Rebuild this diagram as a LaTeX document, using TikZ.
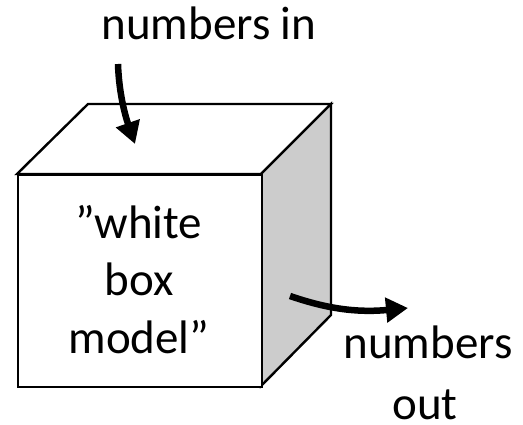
\documentclass[tikz,border=0pt]{standalone}
\usepackage{fontspec}
\setmainfont{Carlito}
\usetikzlibrary{arrows.meta}
\begin{document}
\begin{tikzpicture}[x=1pt,y=-1pt,
  edge/.style={draw=black,line width=2.4pt,line join=miter},
  flow/.style={line width=6.5pt,-{Triangle[length=22pt,width=24pt]}},
  lbl/.style={font=\fontsize{47}{57.5}\selectfont,inner sep=0pt}]
\useasboundingbox (0,0) rectangle (523,425);
% cube
\filldraw[edge,fill=white] (17,174) -- (88,104) -- (331,104) -- (261,174) -- cycle;
\filldraw[edge,fill=black!20] (261,174) -- (331,104) -- (331,315) -- (261,386) -- cycle;
\node[edge,fill=white,minimum width=244pt,minimum height=212pt,inner sep=0pt,anchor=north west] (box) at (17,174) {};
% texts
\node[lbl,anchor=base] (in) at (209,40) {numbers in};
\node[lbl,align=center,anchor=base] (model) at (139,353) {”white\\box\\model”};
\node[lbl,anchor=base] (out1) at (428,359) {numbers};
\node[lbl,anchor=base] (out2) at (425,420) {out};
% arrows
\coordinate (inS) at (118,64);
\coordinate (inT) at (135,144);
\coordinate (outS) at (290,296);
\coordinate (outT) at (408,308);
\draw[flow] (inS) .. controls (119,95) and (126,118) .. (inT);
\draw[flow] (outS) .. controls (325,308) and (355,313) .. (outT);
\end{tikzpicture}
\end{document}
